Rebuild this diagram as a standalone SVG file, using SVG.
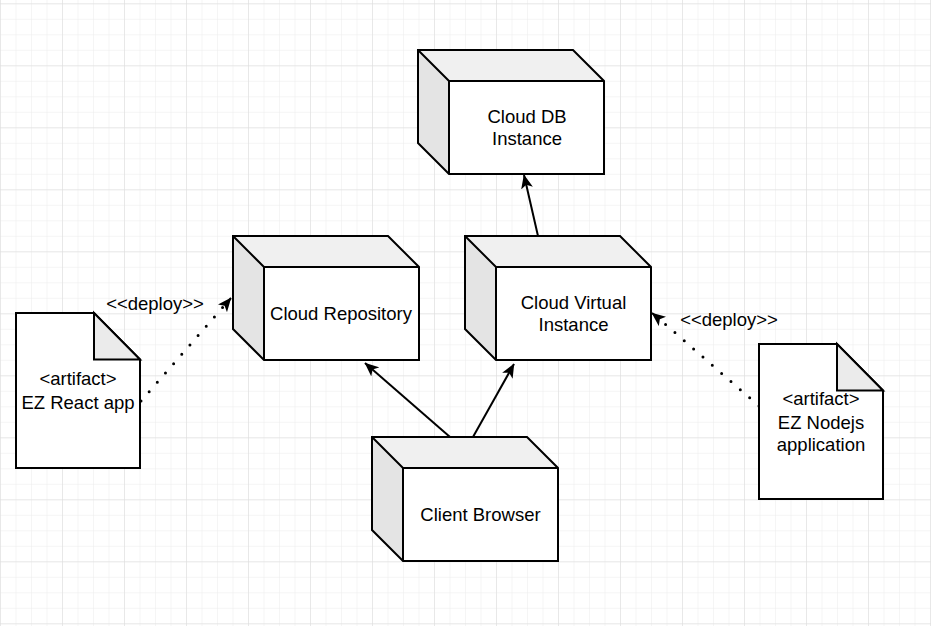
<svg xmlns="http://www.w3.org/2000/svg" width="931" height="626" viewBox="0 0 931 626">
  <defs>
    <pattern id="minor" patternUnits="userSpaceOnUse" x="0" y="3.3" width="15.5" height="15.5">
      <path d="M0,0 H15.5 M0,0 V15.5" fill="none" stroke="#ececec" stroke-width="1"/>
    </pattern>
    <pattern id="major" patternUnits="userSpaceOnUse" x="0" y="3.3" width="62" height="62">
      <path d="M0,0 H62 M0,0 V62" fill="none" stroke="#dcdcdc" stroke-width="1"/>
    </pattern>
    <marker id="arrow" markerUnits="userSpaceOnUse" markerWidth="14" markerHeight="12" viewBox="0 0 14 12" refX="13.5" refY="6" orient="auto">
      <path d="M0,0 L14,6 L0,12 L3.5,6 Z" fill="#000"/>
    </marker>
    <g id="box3d">
      <path d="M31,31 H186 V124 H31 Z" fill="#ffffff"/>
      <path d="M0,0 H155 L186,31 H31 Z" fill="#f0f0f0"/>
      <path d="M0,0 L31,31 V124 L0,93 Z" fill="#e4e4e4"/>
      <path d="M0,0 H155 L186,31 V124 H31 L0,93 Z M0,0 L31,31 H186 M31,31 V124" fill="none" stroke="#000" stroke-width="2" stroke-linejoin="miter"/>
    </g>
    <g id="artifact">
      <path d="M0,0 H78 L124,46.5 V155 H0 Z" fill="#ffffff" stroke="#000" stroke-width="2"/>
      <path d="M78,0 V46.5 H124 Z" fill="#ebebeb" stroke="#000" stroke-width="2" stroke-linejoin="miter"/>
    </g>
  </defs>
  <style>
    text { font-family: "Liberation Sans", Arial, sans-serif; font-size: 18.5px; fill: #000; text-anchor: middle; }
    .conn { fill: none; stroke: #000; stroke-width: 2; }
    .dot { fill: none; stroke: #000; stroke-width: 3; stroke-linecap: round; stroke-dasharray: 0 12.4; }
  </style>

  <rect width="931" height="626" fill="#ffffff"/>
  <rect width="931" height="626" fill="url(#minor)"/>
  <rect width="931" height="626" fill="url(#major)"/>

  <g id="connectors">
    <path class="conn" d="M538,236 L524,175" marker-end="url(#arrow)"/>
    <path class="conn" d="M450,437 L365,363" marker-end="url(#arrow)"/>
    <path class="conn" d="M473,437 L514,364" marker-end="url(#arrow)"/>
    <path class="dot" d="M141,401 L227,302.5"/>
    <path class="conn" d="M226,304 L231,298" marker-end="url(#arrow)"/>
    <path class="dot" d="M759,406 L656.5,316.5"/>
    <path class="conn" d="M657,317 L652,313" marker-end="url(#arrow)"/>
    <text x="155" y="310">&lt;&lt;deploy&gt;&gt;</text>
    <text x="729" y="326">&lt;&lt;deploy&gt;&gt;</text>
  </g>

  <g id="cloud-db">
    <use href="#box3d" x="418" y="50"/>
    <text x="527" y="122.5">Cloud DB</text>
    <text x="527" y="145">Instance</text>
  </g>

  <g id="cloud-repository">
    <use href="#box3d" x="233" y="236"/>
    <text x="341" y="320">Cloud Repository</text>
  </g>

  <g id="cloud-virtual-instance">
    <use href="#box3d" x="465" y="236"/>
    <text x="573.5" y="308.5">Cloud Virtual</text>
    <text x="573.5" y="331">Instance</text>
  </g>

  <g id="client-browser">
    <use href="#box3d" x="372" y="437"/>
    <text x="480.5" y="520.5">Client Browser</text>
  </g>

  <g id="artifact-react">
    <use href="#artifact" x="16" y="313"/>
    <text x="78" y="384.5">&lt;artifact&gt;</text>
    <text x="78" y="409">EZ React app</text>
  </g>

  <g id="artifact-nodejs">
    <use href="#artifact" x="759" y="344"/>
    <text x="821" y="404.5">&lt;artifact&gt;</text>
    <text x="821" y="428.5">EZ Nodejs</text>
    <text x="821" y="450.5">application</text>
  </g>
</svg>
